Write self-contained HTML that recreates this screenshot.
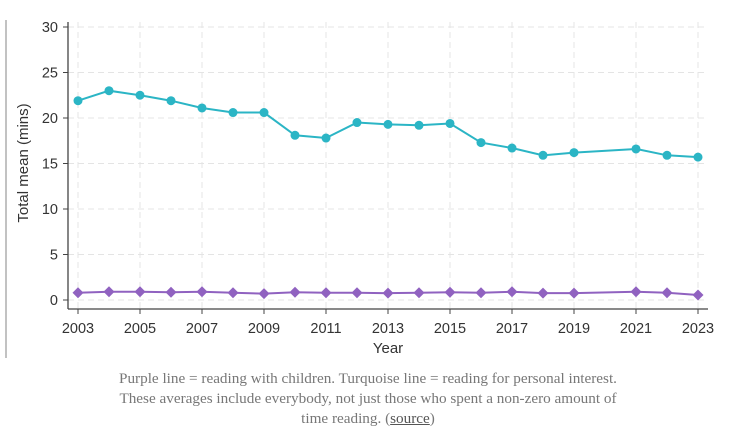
<!DOCTYPE html>
<html><head><meta charset="utf-8"><style>
body{margin:0;background:#fff;width:731px;height:436px;overflow:hidden;position:relative}
#cap{position:absolute;left:68px;width:600px;top:369px;text-align:center;font-family:"Liberation Serif",serif;font-size:15.2px;line-height:20px;color:#777;white-space:nowrap}
#cap a{color:#555;text-decoration:underline}
</style></head><body>
<svg id="chart" width="731" height="360" style="position:absolute;left:0;top:0">
<line x1="6" y1="20" x2="6" y2="358" stroke="#999" stroke-width="1.2"/>
<g id="grid"></g><g id="axes"></g><g id="series"></g>
</svg>
<div id="cap">Purple line = reading with children. Turquoise line = reading for personal interest.<br>These averages include everybody, not just those who spent a non-zero amount of<br>time reading. (<a>source</a>)</div>
<script>
const years=[2003,2004,2005,2006,2007,2008,2009,2010,2011,2012,2013,2014,2015,2016,2017,2018,2019,2021,2022,2023];
const personal=[21.9,23.0,22.5,21.9,21.1,20.6,20.6,18.1,17.8,19.5,19.3,19.2,19.4,17.3,16.7,15.9,16.2,16.6,15.9,15.7];
const children=[0.8,0.9,0.9,0.85,0.9,0.8,0.7,0.85,0.8,0.8,0.75,0.8,0.85,0.8,0.9,0.75,0.75,0.9,0.8,0.55];
const yTicks=[0,5,10,15,20,25,30];
const xTicks=[2003,2005,2007,2009,2011,2013,2015,2017,2019,2021,2023];
const NS="http://www.w3.org/2000/svg";
const X=v=>78+(v-2003)*31, Y=v=>300-v*9.1;
function mk(t,a,p){const e=document.createElementNS(NS,t);for(const k in a)e.setAttribute(k,a[k]);p.appendChild(e);return e;}
const g=document.getElementById('grid'),ax=document.getElementById('axes'),s=document.getElementById('series');
yTicks.forEach(v=>{
 const l=mk('line',{x1:68,x2:708,y1:Y(v),y2:Y(v),stroke:'#e4e4e4','stroke-dasharray':'6,4'},g);
 
 
 mk('line',{x1:63,x2:68,y1:Y(v),y2:Y(v),stroke:'#444'},ax);
 const t=mk('text',{x:58,y:Y(v)+5,'text-anchor':'end','font-size':14.5,'font-family':'Liberation Sans, sans-serif',fill:'#333'},ax);
 t.textContent=v;
 
 
});
xTicks.forEach(v=>{
 const l=mk('line',{x1:X(v),x2:X(v),y1:22,y2:309,stroke:'#e4e4e4','stroke-dasharray':'6,4'},g);
 
 
 mk('line',{x1:X(v),x2:X(v),y1:309,y2:314,stroke:'#444'},ax);
 const t=mk('text',{x:X(v),y:333,'text-anchor':'middle','font-size':14.5,'font-family':'Liberation Sans, sans-serif',fill:'#333'},ax);
 t.textContent=v;
 
 
});
mk('line',{x1:68,x2:68,y1:22,y2:309,stroke:'#444','stroke-width':1.3},ax);
mk('line',{x1:68,x2:708,y1:309,y2:309,stroke:'#444','stroke-width':1.3},ax);
const xt=mk('text',{x:388,y:353,'text-anchor':'middle','font-size':15,'font-family':'Liberation Sans, sans-serif',fill:'#333'},ax);
xt.textContent='Year';


const yt=mk('text',{x:0,y:0,transform:'translate(28,163) rotate(-90)','text-anchor':'middle','font-size':15,'font-family':'Liberation Sans, sans-serif',fill:'#333'},ax);
yt.textContent='Total mean (mins)';


function line(vals,col,name){
 const p=mk('polyline',{points:years.map((y,i)=>X(y)+','+Y(vals[i])).join(' '),fill:'none',stroke:col,'stroke-width':2},s);
 
 
}
line(personal,'#2bb5c5','personal-interest');
line(children,'#9062c0','with-children');
years.forEach((y,i)=>{
 const c=mk('circle',{cx:X(y),cy:Y(personal[i]),r:4.5,fill:'#2bb5c5'},s);
 
 
 const x=X(y),yy=Y(children[i]);
 const d=mk('polygon',{points:`${x},${yy-5.5} ${x+5.5},${yy} ${x},${yy+5.5} ${x-5.5},${yy}`,fill:'#9062c0'},s);
 
 
});
</script>
</body></html>
